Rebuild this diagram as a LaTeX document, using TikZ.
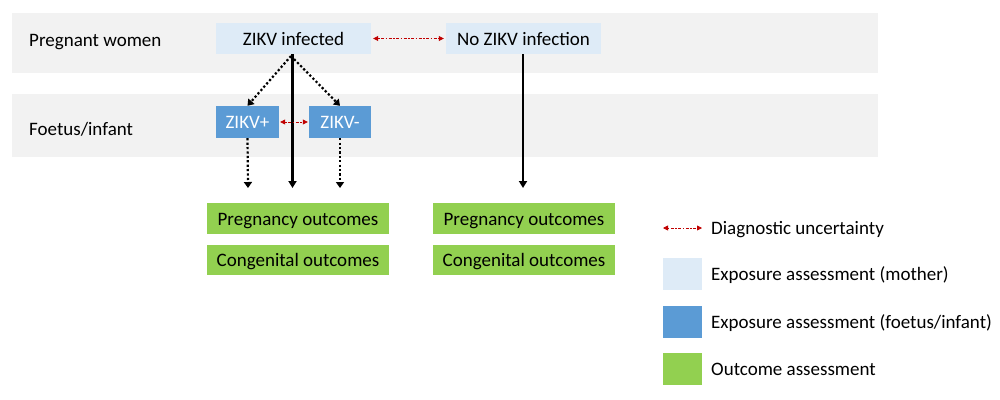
\documentclass[tikz,border=0pt]{standalone}
\usepackage{fontspec}
\setmainfont{Carlito}
\usetikzlibrary{arrows.meta}
\definecolor{band}{HTML}{F2F2F2}
\definecolor{mother}{HTML}{DEEBF7}
\definecolor{foetus}{HTML}{5B9BD5}
\definecolor{outc}{HTML}{92D050}
\definecolor{uncert}{HTML}{C00000}
\begin{document}
\begin{tikzpicture}[x=1pt,y=-1pt,
  every node/.style={font=\fontsize{19}{22}\selectfont, inner sep=0pt, text height=17pt, text depth=4pt},
  bandbox/.style={fill=band, draw=none},
  mbox/.style={fill=mother, draw=none, minimum width=155pt, minimum height=31pt},
  fbox/.style={fill=foetus, draw=none, text=white, minimum height=32pt},
  obox/.style={fill=outc, draw=none, minimum width=182pt, minimum height=31pt},
  legsq/.style={draw=none, minimum width=39pt, minimum height=32pt},
  legtxt/.style={anchor=west},
  dotarrow/.style={line width=2.2pt, dash pattern=on 2.2pt off 2.2pt, -{Triangle[width=8pt,length=6pt]}},
  solidarrow/.style={line width=2.4pt, -{Triangle[width=8pt,length=7pt]}},
  uncarrow/.style={uncert, line width=0.8pt, dash pattern=on 1.5pt off 1.5pt on 3pt off 1.5pt, {Triangle[width=5pt,length=5pt]}-{Triangle[width=5pt,length=5pt]}}
]
\useasboundingbox (0,0) rectangle (1000,399);
\fill[white] (0,0) rectangle (1000,399);
% bands
\node[bandbox, minimum width=866pt, minimum height=60pt] (band1) at (445,43) {};
\node[bandbox, minimum width=866pt, minimum height=63pt] (band2) at (445,125.5) {};
\node[anchor=west] (lab1) at (29,40) {Pregnant women};
\node[anchor=west] (lab2) at (29,129) {Foetus/infant};
% mother nodes
\node[mbox] (inf) at (293.5,38.5) {ZIKV infected};
\node[mbox] (noinf) at (523.5,38.5) {No ZIKV infection};
% foetus nodes
\node[fbox, minimum width=63pt] (pos) at (247.5,122) {ZIKV+};
\node[fbox, minimum width=62pt] (neg) at (340,122) {ZIKV-};
% outcomes
\node[obox] (pL) at (298,218.5) {Pregnancy outcomes};
\node[obox, minimum height=30pt] (cL) at (298,260) {Congenital outcomes};
\node[obox] (pR) at (524,218.5) {Pregnancy outcomes};
\node[obox, minimum height=30pt] (cR) at (524,260) {Congenital outcomes};
% arrow end coordinates
\coordinate (eP) at (248,188);
\coordinate (eI) at (292.5,188);
\coordinate (eN) at (340,188);
\coordinate (eR) at (523,188);
\coordinate (src) at (291,56);
% arrows
\draw[dotarrow] (src) -- (pos.north);
\draw[dotarrow] (src) -- (neg.north);
\draw[solidarrow] (inf.south -| eI) -- (eI);
\draw[dotarrow] (pos.south) -- (eP);
\draw[dotarrow] (neg.south) -- (eN);
\draw[solidarrow] (noinf.south -| eR) -- (eR);
\draw[uncarrow] ([xshift=2pt]inf.east) -- ([xshift=-2pt]noinf.west);
\draw[uncarrow] ([xshift=1pt]pos.east) -- ([xshift=-1pt]neg.west);
% legend
\coordinate (la1) at (663,228);
\coordinate (la2) at (702,228);
\draw[uncarrow] (la1) -- (la2);
\node[legtxt] (lt1) at (711,228) {Diagnostic uncertainty};
\node[legsq, fill=mother] (ls2) at (682.5,274) {};
\node[legtxt] (lt2) at (711,274) {Exposure assessment (mother)};
\node[legsq, fill=foetus] (ls3) at (682.5,322) {};
\node[legtxt] (lt3) at (711,322) {Exposure assessment (foetus/infant)};
\node[legsq, fill=outc] (ls4) at (682.5,369) {};
\node[legtxt] (lt4) at (711,369) {Outcome assessment};
\end{tikzpicture}
\end{document}
